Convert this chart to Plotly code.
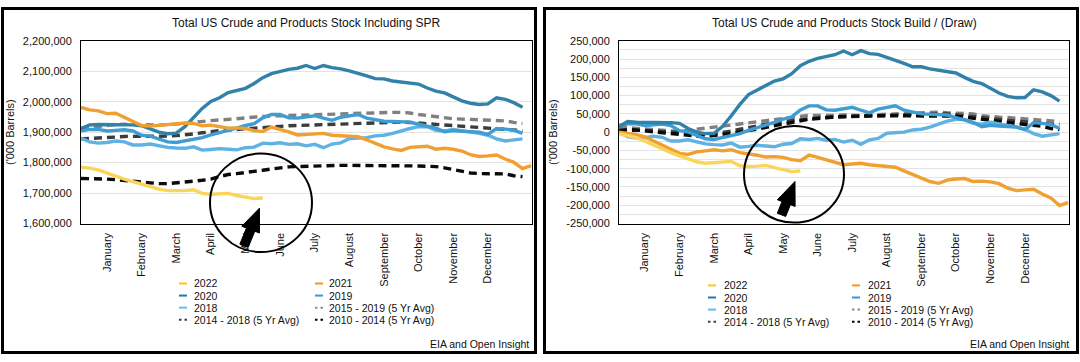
import plotly.graph_objects as go

W, H = 1080, 362

# ---------------- data ----------------
weeks = list(range(1, 54))
month_labels = ["January", "February", "March", "April", "May", "June", "July",
                "August", "September", "October", "November", "December"]
month_weeks = [4, 8, 12, 16, 20, 24, 28, 32, 36, 40, 44, 48]

series_names = ["2022", "2021", "2020", "2019", "2018",
                "2015 - 2019 (5 Yr Avg)", "2014 - 2018 (5 Yr Avg)", "2010 - 2014 (5 Yr Avg)"]

# Total stock incl. SPR ('000 barrels)
stock_2022 = [1785000, 1782000, 1776000, 1767000, 1756000, 1746000, 1738000, 1729000, 1721000, 1713000,
              1708000, 1707000, 1708000, 1711000, 1699000, 1696000, 1697000, 1699000, 1692000, 1687000,
              1682000, 1684000]
stock_2021 = [1981000, 1973000, 1970000, 1961000, 1962000, 1949000, 1934000, 1922000, 1920000, 1923000,
              1926000, 1929000, 1930000, 1929000, 1921000, 1923000, 1917000, 1913000, 1914000, 1912000,
              1905000, 1902000, 1917000, 1910000, 1901000, 1891000, 1892000, 1894000, 1896000, 1890000,
              1888000, 1888000, 1885000, 1875000, 1862000, 1852000, 1845000, 1840000, 1850000, 1853000,
              1854000, 1844000, 1847000, 1844000, 1838000, 1826000, 1820000, 1822000, 1825000, 1812000,
              1801000, 1780000, 1790000]
stock_2020 = [1912000, 1924000, 1925000, 1925000, 1926000, 1925000, 1924000, 1921000, 1910000, 1900000,
              1895000, 1897000, 1918000, 1948000, 1978000, 2001000, 2013000, 2030000, 2037000, 2044000,
              2060000, 2079000, 2092000, 2100000, 2106000, 2110000, 2119000, 2109000, 2119000, 2112000,
              2108000, 2101000, 2094000, 2085000, 2076000, 2075000, 2068000, 2064000, 2061000, 2058000,
              2045000, 2035000, 2029000, 2015000, 2003000, 1995000, 1991000, 1993000, 2013000, 2008000,
              1997000, 1982000]
stock_2019 = [1904000, 1909000, 1909000, 1904000, 1906000, 1908000, 1904000, 1890000, 1887000, 1878000,
              1868000, 1866000, 1872000, 1877000, 1882000, 1891000, 1898000, 1906000, 1913000, 1922000,
              1928000, 1947000, 1958000, 1958000, 1947000, 1946000, 1950000, 1954000, 1946000, 1939000,
              1949000, 1953000, 1958000, 1946000, 1940000, 1936000, 1935000, 1935000, 1933000, 1926000,
              1919000, 1913000, 1901000, 1905000, 1903000, 1901000, 1900000, 1893000, 1912000, 1910000,
              1907000, 1896000]
stock_2018 = [1880000, 1868000, 1864000, 1866000, 1871000, 1868000, 1858000, 1858000, 1861000, 1855000,
              1850000, 1848000, 1847000, 1852000, 1841000, 1843000, 1846000, 1844000, 1842000, 1849000,
              1851000, 1864000, 1862000, 1865000, 1860000, 1862000, 1855000, 1860000, 1849000, 1861000,
              1865000, 1879000, 1880000, 1882000, 1888000, 1890000, 1896000, 1905000, 1912000, 1918000,
              1918000, 1906000, 1904000, 1909000, 1905000, 1899000, 1896000, 1890000, 1878000, 1871000,
              1874000, 1878000]
stock_avg_1519 = [1912000, 1915000, 1920000, 1922000, 1925000, 1926000, 1925000, 1923000, 1922000, 1923000,
                  1925000, 1926000, 1928000, 1932000, 1936000, 1938000, 1940000, 1941000, 1944000, 1947000,
                  1950000, 1952000, 1953000, 1954000, 1954000, 1954000, 1955000, 1956000, 1957000, 1959000,
                  1960000, 1961000, 1962000, 1964000, 1965000, 1965000, 1965000, 1965000, 1963000, 1958000,
                  1954000, 1950000, 1946000, 1944000, 1943000, 1942000, 1942000, 1941000, 1939000, 1937000,
                  1932000, 1928000]
stock_avg_1418 = [1878000, 1879000, 1880000, 1882000, 1884000, 1886000, 1886000, 1886000, 1886000, 1886000,
                  1887000, 1889000, 1891000, 1894000, 1898000, 1902000, 1905000, 1907000, 1909000, 1912000,
                  1914000, 1917000, 1918000, 1920000, 1921000, 1922000, 1923000, 1923000, 1924000, 1925000,
                  1925000, 1926000, 1927000, 1928000, 1930000, 1932000, 1933000, 1933000, 1932000, 1930000,
                  1928000, 1926000, 1923000, 1922000, 1920000, 1918000, 1916000, 1914000, 1912000, 1910000,
                  1907000, 1905000]
stock_avg_1014 = [1748000, 1748000, 1747000, 1746000, 1744000, 1741000, 1738000, 1735000, 1733000, 1731000,
                  1731000, 1733000, 1736000, 1739000, 1742000, 1746000, 1754000, 1761000, 1764000, 1767000,
                  1771000, 1775000, 1779000, 1783000, 1786000, 1787000, 1788000, 1790000, 1791000, 1791000,
                  1791000, 1791000, 1791000, 1791000, 1791000, 1791000, 1791000, 1791000, 1790000, 1789000,
                  1788000, 1787000, 1783000, 1777000, 1770000, 1766000, 1764000, 1764000, 1765000, 1763000,
                  1757000, 1754000]

# Build / (Draw) ('000 barrels)
build_2022 = [-4000, -9000, -15000, -25000, -36000, -46000, -56000, -65000, -74000, -81000,
              -85000, -83000, -82000, -80000, -92000, -94000, -93000, -91000, -97000, -103000,
              -108000, -106000]
build_2021 = [0, -3000, -7000, -13000, -24000, -36000, -48000, -58000, -61000, -54000,
              -51000, -48000, -51000, -48000, -56000, -59000, -63000, -68000, -67000, -69000,
              -75000, -78000, -63000, -69000, -75000, -83000, -89000, -87000, -85000, -89000,
              -91000, -92000, -96000, -106000, -116000, -126000, -135000, -140000, -131000, -128000,
              -127000, -135000, -134000, -136000, -141000, -153000, -160000, -158000, -156000, -169000,
              -180000, -201000, -192000]
build_2020 = [15000, 29000, 27000, 27000, 28000, 27000, 26000, 24000, 10000, 0,
              -4000, -3000, 16000, 45000, 76000, 103000, 116000, 129000, 140000, 146000,
              160000, 182000, 194000, 202000, 208000, 212000, 222000, 212000, 223000, 215000,
              213000, 205000, 198000, 188000, 179000, 179000, 173000, 169000, 165000, 162000,
              150000, 139000, 133000, 120000, 107000, 98000, 94000, 95000, 116000, 110000,
              100000, 85000]
build_2019 = [18000, 23000, 23000, 18000, 20000, 22000, 18000, 4000, 1000, -8000,
              -18000, -20000, -14000, -9000, -4000, 5000, 12000, 20000, 27000, 36000,
              42000, 61000, 72000, 72000, 61000, 60000, 64000, 68000, 60000, 53000,
              63000, 67000, 72000, 60000, 54000, 50000, 49000, 49000, 47000, 40000,
              33000, 27000, 15000, 19000, 17000, 15000, 14000, 7000, 26000, 24000,
              21000, 10000]
build_2018 = [0, -12000, -16000, -15000, -11000, -14000, -24000, -24000, -21000, -27000,
              -32000, -34000, -35000, -30000, -41000, -39000, -36000, -38000, -40000, -33000,
              -31000, -18000, -20000, -17000, -22000, -20000, -27000, -22000, -33000, -21000,
              -17000, -3000, -2000, 0, 6000, 8000, 14000, 23000, 30000, 35000,
              35000, 24000, 22000, 27000, 23000, 17000, 14000, 8000, -4000, -11000,
              -8000, -4000]
build_avg_1519 = [14000, 12000, 10000, 8000, 6000, 4000, 2000, 2000, 5000, 8000,
                  10000, 12000, 16000, 19000, 23000, 26000, 29000, 32000, 35000, 38000,
                  40000, 43000, 46000, 46000, 45000, 46000, 47000, 46000, 46000, 47000,
                  48000, 49000, 50000, 52000, 54000, 55000, 56000, 55000, 53000, 52000,
                  51000, 50000, 45000, 42000, 41000, 40000, 38000, 37000, 36000, 34000,
                  32000, 29000]
build_avg_1418 = [2000, 4000, 5000, 5000, 4000, 3000, 1000, -1000, -3000, -5000,
                  -6000, -4000, -1000, 3000, 8000, 13000, 18000, 22000, 26000, 29000,
                  32000, 35000, 37000, 39000, 40000, 41000, 42000, 43000, 44000, 45000,
                  46000, 47000, 48000, 49000, 50000, 51000, 52000, 51000, 50000, 48000,
                  46000, 43000, 40000, 37000, 35000, 33000, 31000, 29000, 27000, 25000,
                  22000, 20000]
build_avg_1014 = [5000, 7000, 6000, 3000, 1000, -2000, -4000, -6000, -9000, -11000,
                  -12000, -8000, -6000, -3000, 0, 4000, 8000, 13000, 18000, 23000,
                  27000, 31000, 35000, 38000, 40000, 42000, 43000, 44000, 45000, 45000,
                  45000, 45000, 45000, 45000, 45000, 45000, 45000, 45000, 45000, 44000,
                  41000, 38000, 34000, 31000, 28000, 25000, 23000, 21000, 19000, 16000,
                  10000, 7000]

left_ticks = [1600000, 1700000, 1800000, 1900000, 2000000, 2100000, 2200000]
right_ticks = [-250000, -200000, -150000, -100000, -50000, 0, 50000, 100000, 150000, 200000, 250000]

# ---------------- styles ----------------
line_colors = ["#F9D65B", "#F0A030", "#3281A9", "#3E9DD3", "#5FB2E2", "#808080", "#3C3C3C", "#0A0A0A"]
legend_colors = ["#FFC61A", "#F7941D", "#2476AC", "#3399DD", "#63BFF2", "#8C8C8C", "#3C3C3C", "#000000"]
dash_styles = ["solid", "solid", "solid", "solid", "solid", "8px,5px", "8px,5px", "8px,5px"]
FONT = "Liberation Sans, Arial, Helvetica, sans-serif"
TXT = "#111111"

stock_series = [stock_2022, stock_2021, stock_2020, stock_2019, stock_2018,
                stock_avg_1519, stock_avg_1418, stock_avg_1014]
build_series = [build_2022, build_2021, build_2020, build_2019, build_2018,
                build_avg_1519, build_avg_1418, build_avg_1014]
draw_order = [5, 6, 7, 4, 3, 2, 1, 0]

fig = go.Figure()
for i in draw_order:
    for vals, xa, ya in ((stock_series[i], "x", "y"), (build_series[i], "x2", "y2")):
        fig.add_trace(go.Scatter(
            x=weeks[:len(vals)], y=vals, mode="lines", name=series_names[i],
            xaxis=xa, yaxis=ya, showlegend=False,
            line=dict(color=line_colors[i], width=3.4, dash=dash_styles[i]),
        ))


def pp(x, y):
    return x / W, 1 - y / H


PL0, PL1, PR0, PR1, PT, PB = 81, 532, 619, 1069, 36, 225

axis_common = dict(showline=True, linecolor="#000", linewidth=1, mirror=True,
                   ticks="", tickfont=dict(family=FONT, size=11, color=TXT), zeroline=False)

fig.update_layout(
    width=W, height=H, margin=dict(l=0, r=0, t=0, b=0),
    paper_bgcolor="white", plot_bgcolor="white", showlegend=False,
    font=dict(family=FONT, color=TXT),
    xaxis=dict(domain=[PL0 / W, PL1 / W], range=[1, 53.1], tickmode="array",
               tickvals=month_weeks, ticktext=month_labels, tickangle=-90,
               showgrid=False, ticklabelstandoff=4, anchor="y", **axis_common),
    yaxis=dict(domain=[1 - PB / H, 1 - PT / H], range=[1600000, 2200000], tickmode="array",
               tickvals=left_ticks, ticktext=[f"{v:,}" for v in left_ticks],
               showgrid=True, gridcolor="#E3E3E3", gridwidth=1, ticklabelstandoff=6, anchor="x",
               title=dict(text="('000 Barrels)", font=dict(family=FONT, size=11, color=TXT), standoff=6),
               **axis_common),
    xaxis2=dict(domain=[PR0 / W, PR1 / W], range=[1, 53.1], tickmode="array",
                tickvals=month_weeks, ticktext=month_labels, tickangle=-90,
                showgrid=False, ticklabelstandoff=4, anchor="y2", **axis_common),
    yaxis2=dict(domain=[1 - PB / H, 1 - PT / H], range=[-250000, 250000], tickmode="array",
                tickvals=right_ticks, ticktext=[f"{v:,}" for v in right_ticks],
                showgrid=True, gridcolor="#E3E3E3", gridwidth=1, ticklabelstandoff=6, anchor="x2",
                minor=dict(tickmode="linear", tick0=-250000, dtick=25000, showgrid=True,
                           gridcolor="#E3E3E3", gridwidth=1),
                title=dict(text="('000 Barrels)", font=dict(family=FONT, size=11, color=TXT), standoff=6),
                **axis_common),
)

shapes = []
annotations = []

# panel frames
for x0, x1 in ((2.5, 535.5), (544.5, 1077.5)):
    a, b = pp(x0, 2.5)
    c, d = pp(x1, 358.5)
    shapes.append(dict(type="rect", xref="paper", yref="paper", x0=a, x1=c, y0=d, y1=b,
                       line=dict(color="#000", width=3), fillcolor="rgba(0,0,0,0)", layer="above"))

# titles
for cx, text in (((PL0 + PL1) / 2, "Total US Crude and Products Stock Including SPR"),
                 ((PR0 + PR1) / 2, "Total US Crude and Products Stock Build / (Draw)")):
    x, y = pp(cx, 18)
    annotations.append(dict(x=x, y=y, xref="paper", yref="paper", text=text, showarrow=False,
                            xanchor="center", yanchor="middle",
                            font=dict(family=FONT, size=12, color=TXT)))

# source
for rx in (531, 1071):
    x, y = pp(rx, 350)
    annotations.append(dict(x=x, y=y, xref="paper", yref="paper", text="EIA and Open Insight",
                            showarrow=False, xanchor="right", yanchor="middle",
                            font=dict(family=FONT, size=10.5, color=TXT)))

# legends (two columns)
legend_layouts = [
    dict(cols=[(179, 187, 192), (315, 323, 327)], rows=[287, 299.5, 312, 324.5]),
    dict(cols=[(708, 716, 722), (852, 860, 866)], rows=[289, 301.5, 314, 326.5]),
]
legend_cells = [(0, 0), (1, 0), (0, 1), (1, 1), (0, 2), (1, 2), (0, 3), (1, 3)]
for lay in legend_layouts:
    for i, (c, r) in enumerate(legend_cells):
        sx0, sx1, tx = lay["cols"][c]
        ry = lay["rows"][r]
        a, b = pp(sx0, ry)
        cc, _ = pp(sx1, ry)
        shapes.append(dict(type="line", xref="paper", yref="paper", x0=a, x1=cc, y0=b, y1=b,
                           line=dict(color=legend_colors[i], width=2,
                                     dash="solid" if i < 5 else "2.5px,3px")))
        x, y = pp(tx, ry)
        annotations.append(dict(x=x, y=y, xref="paper", yref="paper", text=series_names[i],
                                showarrow=False, xanchor="left", yanchor="middle",
                                font=dict(family=FONT, size=10.5, color=TXT)))

# highlight circles
for cx, cy, r in ((261, 203.5, 51), (794, 174, 50)):
    a, b = pp(cx - r, cy - r)
    c, d = pp(cx + r, cy + r)
    shapes.append(dict(type="circle", xref="paper", yref="paper", x0=a, x1=c, y0=d, y1=b,
                       line=dict(color="#000", width=2), layer="above"))


def arrow_path(tip, tail, head_len, head_hw, shaft_hw):
    tx, ty = tip
    sx, sy = tail
    L = ((tx - sx) ** 2 + (ty - sy) ** 2) ** 0.5
    dx, dy = (tx - sx) / L, (ty - sy) / L
    nx, ny = -dy, dx
    bx, by = tx - dx * head_len, ty - dy * head_len
    pts = [(tx, ty),
           (bx + nx * head_hw, by + ny * head_hw),
           (bx + nx * shaft_hw, by + ny * shaft_hw),
           (sx + nx * shaft_hw, sy + ny * shaft_hw),
           (sx - nx * shaft_hw, sy - ny * shaft_hw),
           (bx - nx * shaft_hw, by - ny * shaft_hw),
           (bx - nx * head_hw, by - ny * head_hw)]
    s = ""
    for k, (x, y) in enumerate(pts):
        px_, py_ = pp(x, y)
        s += ("M" if k == 0 else "L") + f"{px_:.5f},{py_:.5f} "
    return s + "Z"


for tip, tail in (((259.5, 209), (244, 248)), ((795, 181.5), (781.5, 216))):
    shapes.append(dict(type="path", xref="paper", yref="paper",
                       path=arrow_path(tip, tail, 24, 9.5, 4.5),
                       fillcolor="#000", line=dict(color="#000", width=1), layer="above"))

fig.update_layout(shapes=shapes, annotations=annotations)
fig.write_html("out.html", config={"displayModeBar": False},
               post_script="document.body.style.margin='0';document.body.style.overflow='hidden';")
